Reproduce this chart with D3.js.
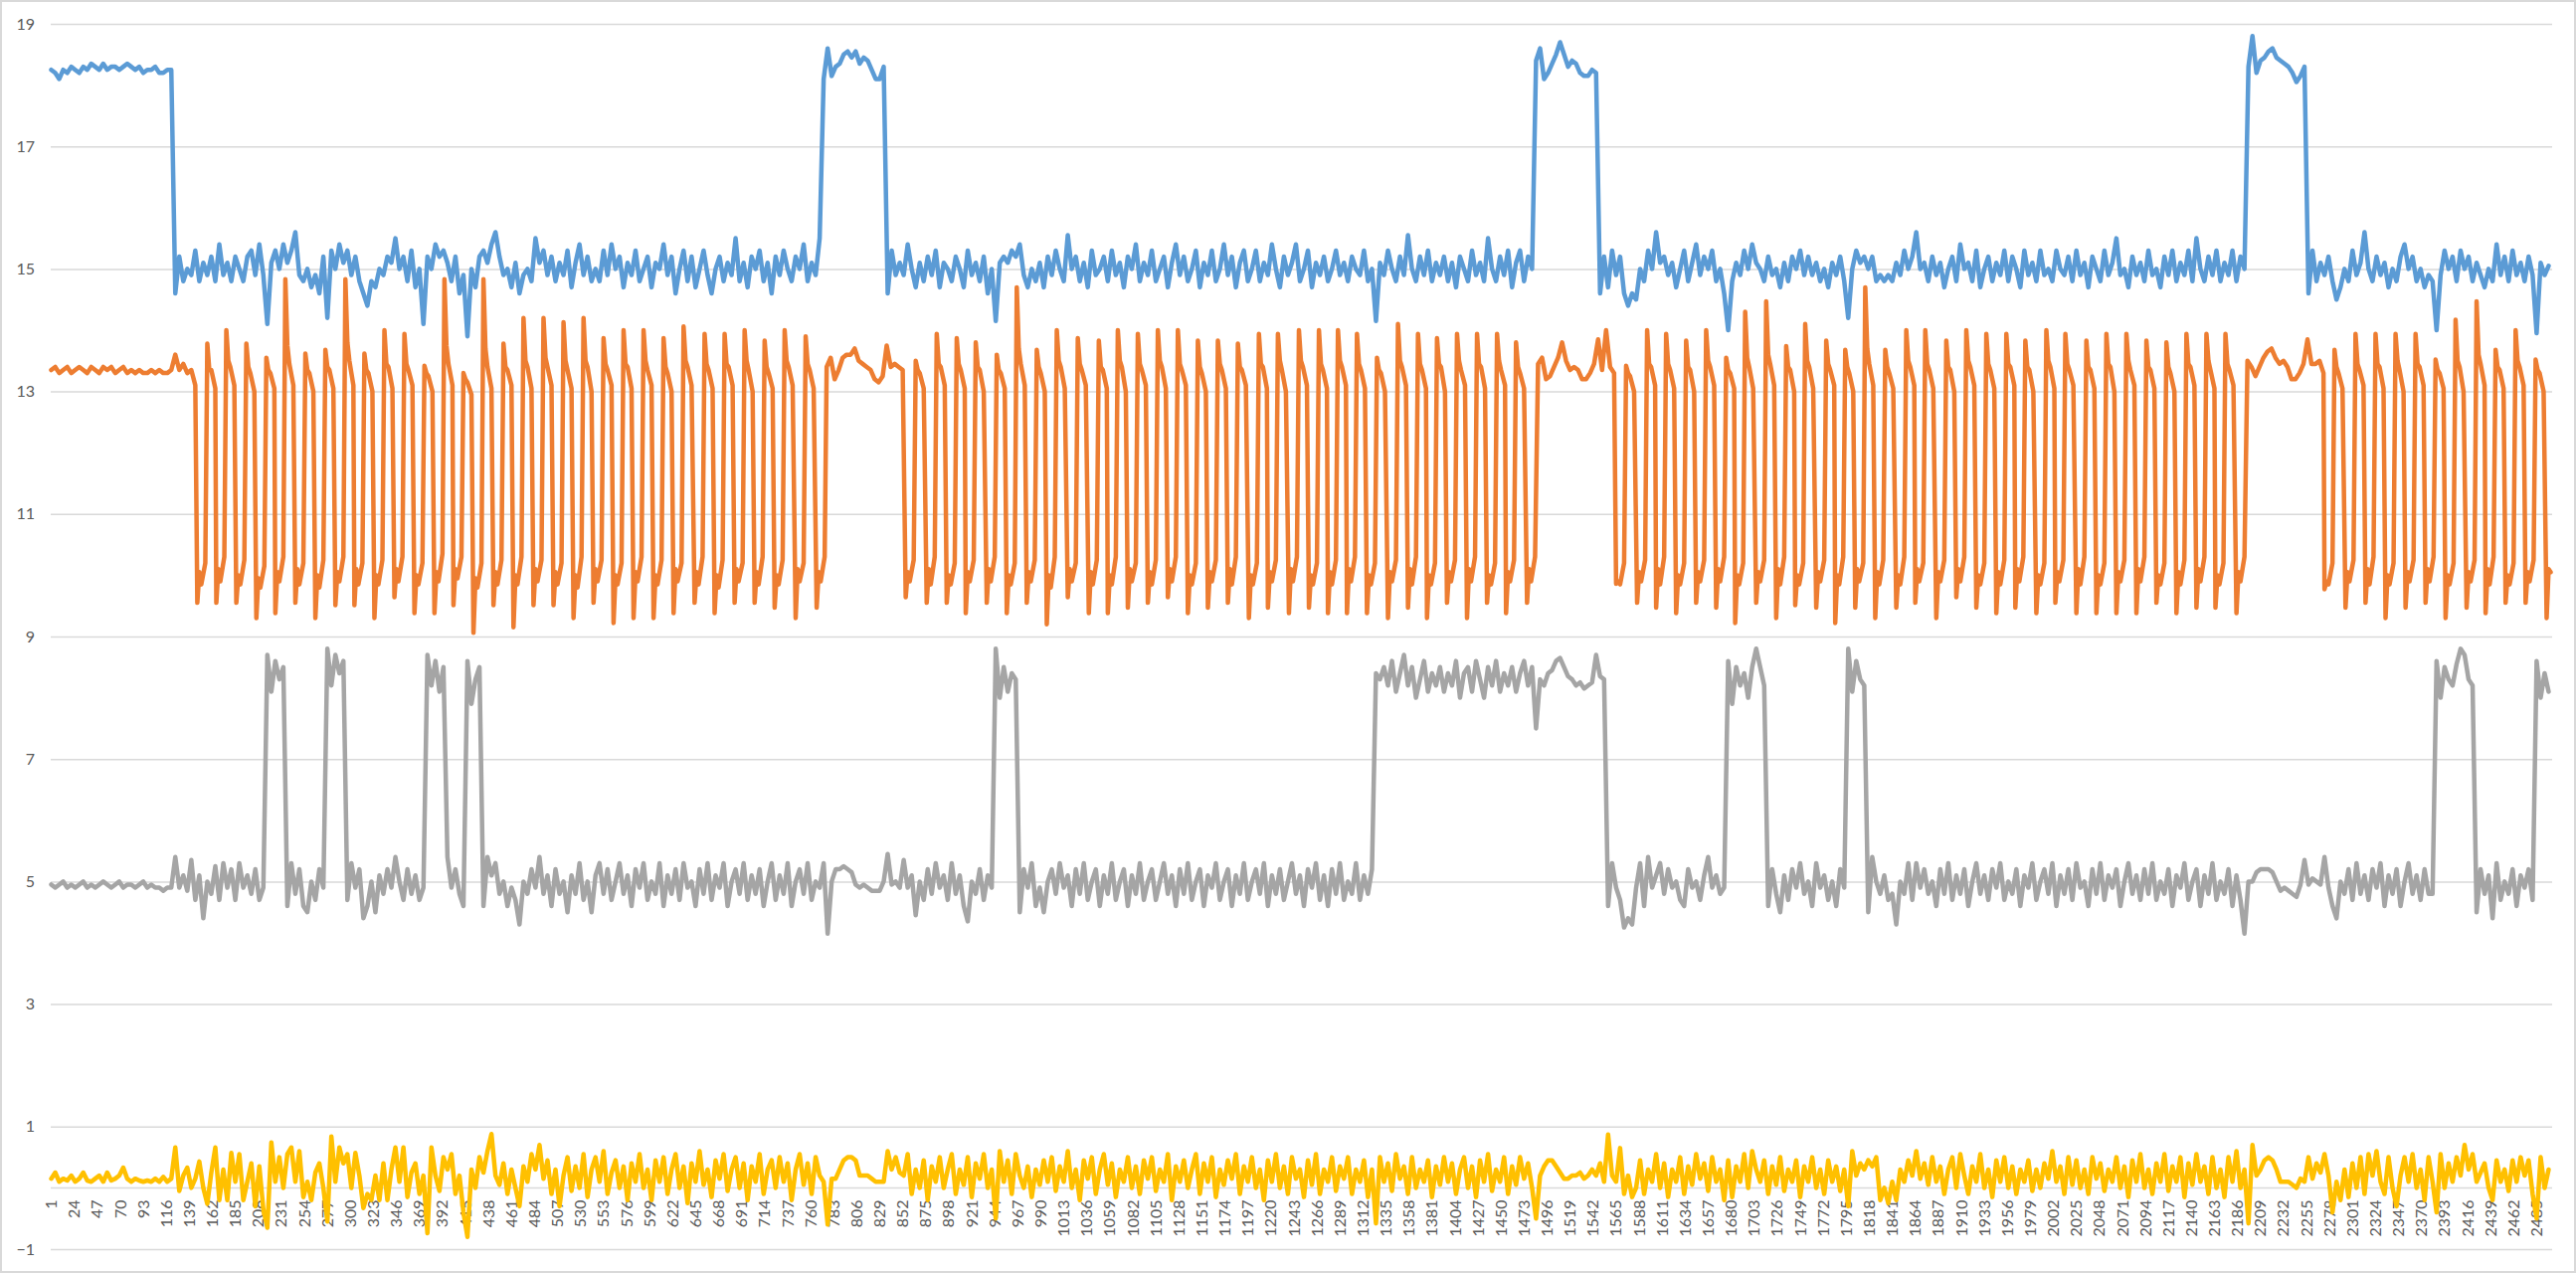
<!DOCTYPE html>
<html>
<head>
<meta charset="utf-8">
<script src="https://cdn.jsdelivr.net/npm/d3@7"></script>
<style>
  html, body { margin: 0; padding: 0; background: #fff; }
  svg { display: block; }
</style>
</head>
<body>
<div id="chart"></div>
<script>
// categories 1..2500, every 23rd labelled
const pointCount = 2500;
const xLabelStep = 23;
const yTicks = [-1, 1, 3, 5, 7, 9, 11, 13, 15, 17, 19];

// blue, gray, yellow are read every 4th point (index 1, 5, 9, ...)
const sampleStep = 4;

const blueValues = [
  18.25,18.2,18.1,18.25,18.2,18.3,18.25,18.2,18.3,18.25,18.35,18.3,18.25,18.35,18.25,18.3,18.3,18.25,18.3,18.35,18.3,18.25,18.3,18.2,18.25,
  18.25,18.3,18.2,18.2,18.25,18.25,14.6,15.2,14.8,15.0,14.9,15.3,14.8,15.1,14.9,15.2,14.8,15.4,14.9,15.1,14.8,15.2,15.0,14.8,15.2,
  15.3,14.9,15.4,14.9,14.1,15.1,15.3,15.0,15.4,15.1,15.3,15.6,14.9,14.8,15.0,14.7,14.9,14.6,15.2,14.2,15.3,15.0,15.4,15.1,15.3,
  14.9,15.2,14.8,14.6,14.4,14.8,14.7,15.0,14.9,15.2,15.1,15.5,15.0,15.2,14.8,15.3,14.7,15.0,14.1,15.2,15.0,15.4,15.2,15.3,15.1,
  14.8,15.2,14.6,14.9,13.9,15.0,14.7,15.2,15.3,15.1,15.4,15.6,15.2,14.9,15.0,14.7,15.1,14.6,14.9,15.0,14.8,15.5,15.1,15.3,14.9,
  15.2,14.8,15.1,14.9,15.3,14.7,15.1,15.4,14.9,15.2,14.8,15.0,14.8,15.3,14.9,15.4,15.0,15.2,14.7,15.1,14.9,15.3,14.8,15.0,15.2,
  14.7,15.1,15.0,15.4,14.9,15.2,14.6,15.0,15.3,14.8,15.2,14.7,15.0,15.3,14.9,14.6,15.0,15.2,14.8,15.1,14.9,15.5,14.8,15.1,14.7,
  15.2,15.0,15.3,14.8,15.1,14.6,15.2,14.9,15.3,15.0,14.8,15.2,15.0,15.4,14.8,15.1,14.9,15.5,18.1,18.6,18.15,18.3,18.35,18.5,18.55,
  18.45,18.55,18.35,18.45,18.4,18.25,18.1,18.1,18.3,14.6,15.3,14.9,15.1,14.9,15.4,15.0,14.7,15.1,14.8,15.2,14.9,15.3,14.7,15.1,15.0,
  14.8,15.2,15.0,14.7,15.3,14.9,15.1,14.8,15.2,14.6,15.0,14.15,15.1,15.2,15.1,15.3,15.2,15.4,14.9,14.7,15.0,14.8,15.1,14.7,15.2,
  14.9,15.3,15.0,14.8,15.55,15.0,15.2,14.8,15.1,14.7,15.3,14.9,15.0,15.2,14.8,15.3,14.9,15.1,14.7,15.2,15.0,15.4,14.8,15.1,14.9,
  15.3,14.8,15.0,15.2,14.7,15.1,15.4,14.9,15.2,14.8,15.0,15.3,14.7,15.1,14.9,15.3,14.8,15.0,15.4,14.9,15.2,14.7,15.1,15.3,14.8,
  15.0,15.3,14.8,15.1,14.9,15.4,15.0,14.7,15.2,14.9,15.1,15.4,14.8,15.0,15.3,14.7,15.1,14.9,15.2,14.8,15.0,15.3,14.9,15.1,14.8,
  15.2,15.0,14.9,15.3,14.8,15.0,14.15,15.1,14.9,15.3,15.0,14.8,15.2,14.9,15.55,15.0,14.8,15.2,14.9,15.3,14.8,15.1,14.9,15.2,14.8,
  15.1,14.7,15.2,15.0,14.8,15.3,14.9,15.1,14.8,15.5,15.0,14.8,15.2,14.9,15.3,14.7,15.1,15.3,14.8,15.2,15.0,18.4,18.6,18.1,18.2,
  18.35,18.5,18.7,18.5,18.3,18.4,18.35,18.2,18.15,18.15,18.25,18.2,14.6,15.2,14.7,15.3,14.9,15.2,14.6,14.4,14.6,14.5,15.0,14.8,15.3,
  15.0,15.6,15.1,15.2,14.9,15.1,14.7,15.0,15.3,14.8,15.1,15.4,14.9,15.2,15.0,15.3,14.8,15.0,14.6,14.0,14.8,15.1,14.9,15.3,15.0,
  15.4,15.1,15.0,14.8,15.2,14.9,15.0,14.7,15.1,14.8,15.2,15.0,15.3,14.9,15.2,14.9,15.1,14.8,15.0,14.7,15.1,14.9,15.2,14.8,14.2,
  15.0,15.3,15.1,15.2,15.0,15.2,14.8,14.9,14.8,14.9,14.8,15.1,14.9,15.3,15.0,15.2,15.6,15.0,15.1,14.8,15.2,14.9,15.1,14.7,15.0,
  15.2,14.8,15.4,15.0,15.1,14.8,15.3,14.7,15.0,15.2,14.8,15.1,14.9,15.3,14.8,15.2,15.0,14.7,15.3,14.9,15.1,14.8,15.3,14.9,15.0,
  14.8,15.3,15.0,14.9,15.2,14.8,15.3,14.9,15.1,14.7,15.2,15.0,14.8,15.3,14.9,15.1,15.5,14.9,15.0,14.7,15.2,14.9,15.1,14.8,15.3,
  14.9,15.0,14.7,15.2,14.9,15.3,14.8,15.1,14.9,15.3,14.8,15.5,15.0,14.8,15.2,14.9,15.3,14.8,15.1,14.9,15.3,14.8,15.2,15.0,18.3,
  18.8,18.2,18.4,18.45,18.55,18.6,18.45,18.4,18.35,18.3,18.2,18.05,18.15,18.3,14.6,15.3,14.8,15.1,14.9,15.2,14.8,14.5,14.7,15.0,14.8,
  15.3,14.9,15.1,15.6,15.0,14.8,15.2,14.9,15.1,14.7,15.0,14.8,15.2,15.4,15.0,15.2,14.8,15.0,14.7,14.9,14.8,14.0,14.9,15.3,15.0,
  15.2,14.8,15.3,15.0,15.2,14.8,15.1,14.9,14.7,15.0,14.8,15.4,14.9,15.2,14.8,15.3,14.9,15.1,14.8,15.2,14.9,13.95,15.1,14.9,15.05
];

const grayValues = [
  4.95,4.9,4.95,5.0,4.9,4.95,4.9,4.95,5.0,4.9,4.95,4.9,4.95,5.0,4.95,4.9,4.95,5.0,4.9,4.95,4.95,4.9,4.95,5.0,4.9,
  4.95,4.9,4.9,4.85,4.9,4.9,5.4,4.9,5.1,4.85,5.35,4.7,5.1,4.4,5.0,4.8,5.25,4.7,5.3,4.9,5.2,4.7,5.3,4.9,5.1,
  4.8,5.2,4.7,4.9,8.7,8.1,8.6,8.3,8.5,4.6,5.3,4.8,5.2,4.6,4.5,5.0,4.7,5.2,4.9,8.8,8.2,8.7,8.4,8.6,4.7,
  5.3,4.9,5.2,4.4,4.6,5.0,4.5,5.1,4.8,5.2,4.9,5.4,5.0,4.7,5.2,4.8,5.1,4.7,4.9,8.7,8.2,8.6,8.1,8.5,5.4,
  4.9,5.2,4.8,4.6,8.6,7.9,8.3,8.5,4.6,5.4,5.1,5.3,4.8,5.0,4.6,4.9,4.7,4.3,5.0,4.8,5.2,4.9,5.4,4.8,5.1,
  4.6,5.2,4.8,5.0,4.5,5.1,4.8,5.3,4.7,5.0,4.5,5.1,5.3,4.8,5.2,4.7,5.0,5.3,4.8,5.1,4.6,5.2,4.9,5.3,4.7,
  5.0,4.8,5.3,4.6,5.1,4.8,5.2,4.7,5.3,4.9,5.0,4.6,5.2,4.8,5.3,4.7,5.1,4.9,5.3,4.6,5.0,5.2,4.8,5.3,4.7,
  5.1,4.8,5.2,4.6,5.0,5.3,4.7,5.1,4.8,5.3,4.6,5.0,5.2,4.8,5.3,4.7,5.0,4.9,5.3,4.15,5.0,5.2,5.2,5.25,5.2,
  5.15,4.95,4.9,4.95,4.9,4.85,4.85,4.85,5.0,5.45,4.95,5.0,4.9,5.35,4.9,5.1,4.45,5.0,4.7,5.2,4.8,5.3,4.9,5.1,4.7,
  5.3,4.8,5.1,4.6,4.35,5.0,4.8,5.2,4.7,5.1,4.9,8.8,8.0,8.5,8.1,8.4,8.3,4.5,5.2,4.9,5.3,4.6,4.9,4.5,5.0,
  5.2,4.8,5.3,4.9,5.1,4.6,5.2,4.8,5.3,4.7,5.0,5.2,4.6,5.1,4.8,5.3,4.7,5.0,5.2,4.6,5.1,4.8,5.3,4.7,5.0,
  5.2,4.7,5.0,5.3,4.8,5.1,4.6,5.2,4.8,5.3,4.7,5.0,5.2,4.6,5.1,4.9,5.3,4.7,5.0,5.2,4.6,5.1,4.8,5.3,4.7,
  5.0,5.2,4.8,5.3,4.6,5.1,4.8,5.2,4.7,5.0,5.3,4.8,5.1,4.6,5.2,4.9,5.3,4.7,5.1,4.6,5.2,4.8,5.3,4.7,5.0,
  4.8,5.3,4.7,5.1,4.8,5.2,8.4,8.3,8.5,8.2,8.6,8.1,8.4,8.7,8.2,8.5,8.0,8.3,8.6,8.1,8.4,8.2,8.5,8.1,8.4,
  8.2,8.6,8.0,8.4,8.5,8.1,8.6,8.3,8.0,8.5,8.2,8.6,8.1,8.4,8.2,8.5,8.1,8.4,8.6,8.2,8.5,7.5,8.3,8.2,8.4,
  8.45,8.6,8.65,8.5,8.35,8.3,8.2,8.25,8.15,8.2,8.25,8.7,8.35,8.3,4.6,5.3,4.9,4.7,4.25,4.4,4.3,4.9,5.3,4.6,5.4,
  4.9,5.1,5.3,4.8,5.2,4.9,5.0,4.7,4.6,5.2,4.9,5.0,4.7,5.1,5.4,4.9,5.1,4.8,4.9,8.6,7.9,8.5,8.2,8.4,8.0,
  8.5,8.8,8.5,8.2,4.6,5.2,4.8,4.5,5.1,4.7,5.2,4.9,5.3,4.8,5.0,4.6,5.3,4.9,5.1,4.7,5.0,4.6,5.2,4.9,8.8,
  8.1,8.6,8.3,8.2,4.5,5.4,5.0,4.8,5.1,4.7,4.8,4.3,5.0,4.8,5.3,4.7,5.3,4.9,5.2,4.8,5.0,4.6,5.2,4.8,5.3,
  4.7,5.1,4.8,5.2,4.6,5.0,5.3,4.8,5.1,4.7,5.2,4.9,5.3,4.7,5.0,4.8,5.2,4.6,5.1,4.9,5.3,4.7,5.0,5.2,4.8,
  5.3,4.6,5.1,4.8,5.2,4.7,5.3,4.9,5.0,4.6,5.2,4.8,5.3,4.7,5.1,4.9,5.2,4.6,5.0,5.3,4.8,5.1,4.7,5.2,4.8,
  5.3,4.7,5.0,4.8,5.2,4.6,5.1,4.9,5.3,4.7,5.0,5.2,4.6,5.1,4.8,5.3,4.7,5.0,4.8,5.2,4.6,5.1,4.7,4.15,5.0,
  5.0,5.15,5.2,5.2,5.2,5.15,5.0,4.85,4.9,4.85,4.8,4.75,4.95,5.35,4.95,5.05,5.0,4.95,5.4,4.9,4.6,4.4,5.0,4.8,5.2,
  4.7,5.3,4.8,5.1,4.7,5.2,4.9,5.3,4.6,5.1,4.8,5.2,4.6,5.0,5.3,4.8,5.1,4.7,5.2,4.8,4.8,8.6,8.0,8.5,8.3,
  8.2,8.55,8.8,8.7,8.3,8.2,4.5,5.2,4.8,5.1,4.4,5.3,4.7,5.0,4.8,5.2,4.6,5.1,4.9,5.2,4.7,8.6,8.0,8.4,8.1
];

const yellowValues = [
  0.15,0.25,0.1,0.15,0.12,0.2,0.1,0.15,0.25,0.12,0.1,0.15,0.2,0.1,0.25,0.12,0.15,0.2,0.33,0.15,0.1,0.15,0.12,0.1,0.12,
  0.1,0.15,0.1,0.18,0.1,0.15,0.66,-0.05,0.2,0.33,0.0,0.15,0.43,0.0,-0.26,0.25,0.66,-0.2,0.3,-0.2,0.57,0.1,0.55,-0.2,0.1,
  0.4,-0.3,0.35,-0.35,-0.65,0.74,0.1,0.5,0.0,0.55,0.66,0.1,0.6,-0.15,0.1,-0.2,0.25,0.4,0.0,-0.55,0.84,0.1,0.66,0.4,0.55,
  0.0,0.57,0.2,-0.33,-0.1,-0.2,0.2,-0.2,0.4,-0.2,0.3,0.66,0.1,0.66,-0.15,0.25,0.4,-0.1,0.2,-0.74,0.66,0.2,-0.05,0.5,0.3,
  0.55,-0.1,0.2,-0.4,-0.8,0.3,0.0,0.5,0.25,0.6,0.88,0.2,0.05,0.4,-0.1,0.3,0.0,-0.3,0.35,0.1,0.55,0.3,0.7,0.15,0.45,
  -0.1,0.3,-0.3,0.2,0.5,-0.05,0.35,0.0,0.55,-0.15,0.3,0.5,0.1,0.6,-0.1,0.25,0.45,0.0,0.35,-0.2,0.4,0.1,0.55,0.0,0.3,
  -0.2,0.45,0.1,0.5,-0.1,0.3,0.55,0.0,0.35,-0.25,0.4,0.1,0.6,0.05,0.3,-0.15,0.45,0.15,0.55,-0.05,0.3,0.5,0.0,0.4,-0.2,
  0.35,0.1,0.55,-0.1,0.3,0.45,0.0,0.5,0.1,0.4,-0.2,0.3,0.55,0.05,0.4,-0.1,0.5,0.2,0.1,-0.6,0.15,0.15,0.3,0.45,0.5,
  0.5,0.45,0.2,0.2,0.2,0.15,0.1,0.1,0.1,0.6,0.3,0.5,0.25,0.2,0.55,-0.1,0.3,0.0,0.45,-0.2,0.35,0.1,0.5,0.0,0.3,
  0.55,-0.1,0.3,0.05,0.5,-0.15,0.4,0.15,0.55,0.0,0.3,-0.5,0.6,0.1,0.45,-0.1,0.55,0.2,0.0,0.35,-0.15,0.3,0.05,0.45,0.1,
  0.5,-0.05,0.35,0.1,0.6,0.0,0.3,-0.2,0.45,0.15,0.5,-0.1,0.3,0.55,0.05,0.4,-0.15,0.3,0.1,0.5,0.0,0.35,-0.1,0.45,0.15,
  0.5,-0.05,0.3,0.1,0.55,-0.2,0.35,0.1,0.45,0.0,0.3,0.55,-0.1,0.4,0.1,0.5,-0.15,0.3,0.05,0.45,0.15,0.55,-0.1,0.35,0.1,
  0.5,0.0,0.3,-0.2,0.45,0.1,0.55,0.0,0.35,-0.1,0.5,0.15,0.3,-0.15,0.45,0.05,0.55,-0.1,0.3,0.1,0.5,-0.05,0.35,0.15,0.5,
  -0.1,0.3,0.1,0.45,-0.15,0.3,-0.58,0.5,0.1,0.4,-0.05,0.55,0.15,0.35,-0.1,0.5,0.0,0.3,0.1,0.45,-0.15,0.35,0.05,0.5,0.1,
  0.4,-0.1,0.3,0.5,0.0,0.35,-0.15,0.45,0.1,0.55,-0.05,0.3,0.1,0.5,-0.1,0.35,0.05,0.5,0.15,0.4,0.0,-0.5,0.2,0.35,0.45,
  0.45,0.35,0.25,0.15,0.15,0.2,0.2,0.25,0.15,0.2,0.3,0.2,0.4,0.1,0.87,0.2,0.1,0.65,-0.1,0.2,-0.15,0.0,0.45,-0.1,0.3,
  0.1,0.55,0.0,0.4,-0.15,0.3,0.1,0.5,-0.1,0.35,0.05,0.55,0.15,0.4,-0.05,0.5,0.1,0.3,-0.2,0.45,-0.15,0.35,0.1,0.55,0.0,
  0.6,0.3,0.1,0.45,-0.1,0.35,0.05,0.5,-0.05,0.3,0.1,0.45,-0.15,0.35,0.1,0.5,0.0,0.3,-0.1,0.45,0.1,0.35,-0.05,0.3,-0.3,
  0.6,0.2,0.4,0.3,0.45,0.35,0.5,-0.2,0.0,-0.25,0.1,-0.2,0.3,0.1,0.45,0.2,0.6,0.15,0.4,0.05,0.5,0.1,0.35,-0.1,0.3,
  0.5,0.0,0.55,0.2,-0.1,0.35,0.1,0.55,0.0,0.3,-0.15,0.45,0.1,0.5,0.0,0.35,-0.1,0.3,0.1,0.45,-0.05,0.3,0.0,0.4,0.15,
  0.6,0.1,0.35,-0.1,0.5,0.05,0.45,0.0,0.3,-0.1,0.5,0.15,0.4,-0.05,0.3,0.1,0.5,0.0,0.35,-0.15,0.45,0.1,0.55,0.0,0.3,
  -0.1,0.4,0.1,0.55,-0.05,0.35,0.1,0.5,-0.15,0.4,0.05,0.55,0.1,0.35,-0.1,0.5,0.0,0.3,-0.15,0.5,0.1,0.6,0.0,0.3,-0.58,
  0.7,0.2,0.3,0.45,0.5,0.45,0.3,0.1,0.1,0.1,0.05,0.0,0.15,0.1,0.5,0.15,0.4,0.25,0.55,0.2,-0.4,0.1,-0.2,0.3,-0.15,
  0.4,0.0,0.5,-0.1,0.55,0.2,0.6,0.1,-0.1,0.5,0.0,-0.3,0.2,0.5,0.1,0.55,0.0,0.3,-0.2,0.5,0.1,-0.4,0.55,0.0,0.4,
  0.1,0.5,0.2,0.7,0.3,0.55,0.1,0.25,0.4,0.0,-0.2,0.45,0.1,0.3,-0.05,0.45,0.1,0.5,0.2,0.45,-0.1,-0.5,0.5,0.0,0.3
];

// orange: resting stretches (read every 4th point from the given start index)
const orangeRestStarts = [1, 776, 1487, 2196];
const orangeRest1 = [13.35,13.4,13.3,13.35,13.4,13.3,13.35,13.4,13.35,13.3,13.4,13.35,13.3,13.4,13.35,13.4,13.3,13.35,13.4,13.3,13.35,13.3,13.35,13.3,13.3,13.35,13.3,13.35,13.3,13.3,13.35,13.6,13.35,13.45,13.3,13.35,13.1];
const orangeRest2 = [13.4,13.55,13.2,13.35,13.55,13.6,13.6,13.7,13.5,13.45,13.4,13.35,13.2,13.15,13.25,13.75,13.4,13.45,13.4,13.35];
const orangeRest3 = [13.45,13.55,13.2,13.25,13.4,13.55,13.8,13.5,13.35,13.4,13.35,13.2,13.2,13.3,13.45,13.85,13.35,14.0,13.4,13.3];
const orangeRest4 = [13.5,13.4,13.25,13.4,13.55,13.65,13.7,13.55,13.45,13.5,13.4,13.2,13.2,13.3,13.45,13.85,13.45,13.45,13.5,13.3];

// orange: one row per cycle = [index of trough, trough, rebound, dip, ramp top, peak, after peak, shoulder, tail]
// the values in a row sit at these offsets (in points) from the trough
const cycleOffsets = [0, 2, 4, 8, 10, 12, 14, 18];
const orangeCycles = [
  [147,9.55,10.05,9.85,10.2,13.78,13.35,13.35,13.05],
  [166,9.55,10.1,9.9,10.3,14.0,13.5,13.4,13.1],
  [186,9.55,10.0,9.85,10.25,13.78,13.4,13.3,13.0],
  [206,9.3,9.95,9.8,10.15,13.55,13.35,13.3,13.05],
  [225,9.38,10.05,9.9,10.3,14.83,13.75,13.45,13.1],
  [245,9.55,10.1,9.85,10.2,13.62,13.35,13.3,13.0],
  [265,9.3,10.0,9.8,10.25,13.68,13.4,13.35,13.05],
  [285,9.51,10.05,9.9,10.3,14.83,13.8,13.5,13.1],
  [304,9.51,10.1,9.85,10.2,13.62,13.35,13.3,13.0],
  [324,9.3,10.0,9.85,10.25,14.0,13.45,13.4,13.05],
  [344,9.64,10.1,9.9,10.3,13.94,13.45,13.35,13.1],
  [364,9.38,10.0,9.85,10.2,13.42,13.3,13.25,13.0],
  [384,9.38,10.05,9.9,10.35,14.83,13.75,13.45,13.1],
  [403,9.51,10.1,9.95,10.3,13.3,13.2,13.15,12.95],
  [423,9.06,9.95,9.8,10.2,14.83,13.7,13.4,13.05],
  [443,9.51,10.05,9.85,10.25,13.78,13.4,13.35,13.1],
  [463,9.15,10.0,9.85,10.3,14.2,13.5,13.4,13.05],
  [483,9.51,10.1,9.9,10.25,14.2,13.55,13.4,13.1],
  [503,9.51,10.05,9.85,10.2,14.13,13.5,13.35,13.05],
  [523,9.3,10.0,9.8,10.3,14.2,13.5,13.4,13.0],
  [543,9.55,10.1,9.9,10.25,13.87,13.45,13.35,13.1],
  [563,9.22,10.0,9.85,10.2,14.0,13.45,13.4,13.05],
  [583,9.3,10.05,9.9,10.3,14.0,13.5,13.35,13.1],
  [603,9.3,10.0,9.85,10.25,13.87,13.4,13.3,13.0],
  [623,9.38,10.1,9.9,10.2,14.06,13.5,13.4,13.1],
  [644,9.55,10.05,9.85,10.3,13.94,13.45,13.35,13.05],
  [664,9.38,10.0,9.8,10.25,13.94,13.45,13.4,13.1],
  [684,9.55,10.1,9.9,10.2,14.0,13.5,13.35,13.0],
  [704,9.55,10.05,9.85,10.3,13.83,13.4,13.3,13.05],
  [724,9.47,10.0,9.85,10.25,14.0,13.5,13.4,13.1],
  [745,9.3,10.1,9.9,10.2,13.9,13.45,13.35,13.05],
  [766,9.47,10.05,9.9,10.3,null,null,null,null],
  [855,9.64,10.05,9.9,10.25,13.5,13.35,13.3,13.05],
  [876,9.55,10.1,9.85,10.3,13.94,13.45,13.4,13.1],
  [896,9.55,10.0,9.85,10.2,13.87,13.45,13.35,13.05],
  [915,9.38,10.05,9.9,10.25,13.8,13.4,13.35,13.0],
  [936,9.55,10.1,9.9,10.3,13.6,13.35,13.3,13.05],
  [956,9.38,10.0,9.85,10.2,14.7,13.7,13.45,13.1],
  [976,9.55,10.05,9.9,10.25,13.68,13.4,13.3,13.0],
  [996,9.2,10.0,9.8,10.3,14.0,13.5,13.4,13.05],
  [1017,9.64,10.1,9.9,10.2,13.87,13.45,13.35,13.1],
  [1038,9.38,10.05,9.85,10.25,13.83,13.4,13.35,13.05],
  [1057,9.38,10.0,9.85,10.3,14.0,13.5,13.4,13.0],
  [1077,9.47,10.1,9.9,10.2,13.94,13.45,13.35,13.1],
  [1097,9.55,10.05,9.85,10.25,14.0,13.5,13.4,13.05],
  [1117,9.64,10.1,9.9,10.3,14.0,13.45,13.35,13.1],
  [1137,9.38,10.0,9.85,10.2,13.83,13.4,13.3,13.0],
  [1157,9.47,10.05,9.9,10.25,13.83,13.45,13.35,13.05],
  [1177,9.55,10.1,9.85,10.3,13.78,13.4,13.35,13.1],
  [1198,9.3,10.0,9.85,10.2,13.94,13.45,13.4,13.05],
  [1217,9.47,10.05,9.9,10.25,13.94,13.5,13.35,13.0],
  [1238,9.38,10.1,9.9,10.3,14.0,13.5,13.4,13.1],
  [1258,9.47,10.0,9.85,10.2,14.0,13.45,13.35,13.05],
  [1277,9.38,10.05,9.85,10.25,14.0,13.5,13.4,13.1],
  [1296,9.38,10.1,9.9,10.3,13.94,13.45,13.35,13.05],
  [1316,9.38,10.0,9.85,10.2,13.55,13.35,13.3,13.0],
  [1337,9.3,10.05,9.9,10.25,14.1,13.5,13.4,13.1],
  [1357,9.47,10.1,9.85,10.3,13.94,13.45,13.35,13.05],
  [1376,9.3,10.0,9.85,10.2,13.87,13.45,13.4,13.0],
  [1396,9.55,10.05,9.9,10.25,13.94,13.5,13.35,13.1],
  [1416,9.3,10.1,9.9,10.3,13.94,13.45,13.4,13.05],
  [1436,9.55,10.0,9.85,10.2,13.94,13.5,13.35,13.1],
  [1455,9.38,10.05,9.9,10.25,13.8,13.4,13.3,13.05],
  [1476,9.55,10.1,9.9,10.3,null,null,null,null],
  [1565,9.86,9.9,9.85,10.2,13.42,13.3,13.25,13.0],
  [1586,9.55,10.05,9.9,10.25,14.0,13.45,13.4,13.1],
  [1605,9.47,10.1,9.85,10.3,13.94,13.45,13.35,13.05],
  [1625,9.38,10.0,9.85,10.2,13.83,13.4,13.35,13.0],
  [1645,9.55,10.05,9.9,10.25,14.0,13.5,13.4,13.1],
  [1665,9.47,10.1,9.9,10.3,13.55,13.35,13.3,13.05],
  [1684,9.22,10.0,9.85,10.2,14.3,13.55,13.4,13.05],
  [1705,9.55,10.05,9.9,10.25,14.47,13.6,13.45,13.1],
  [1725,9.3,10.1,9.85,10.3,13.74,13.4,13.35,13.0],
  [1744,9.51,10.0,9.85,10.2,14.1,13.5,13.4,13.05],
  [1765,9.47,10.05,9.9,10.25,13.83,13.45,13.35,13.1],
  [1784,9.22,10.0,9.85,10.3,13.68,13.4,13.3,13.0],
  [1804,9.47,10.1,9.9,10.2,14.7,13.7,13.45,13.1],
  [1824,9.3,10.05,9.85,10.25,13.68,13.4,13.3,13.05],
  [1845,9.47,10.0,9.85,10.3,14.0,13.5,13.4,13.1],
  [1864,9.55,10.1,9.9,10.2,14.0,13.45,13.35,13.05],
  [1885,9.3,10.05,9.9,10.25,13.83,13.4,13.35,13.0],
  [1905,9.64,10.1,9.9,10.3,14.0,13.5,13.4,13.1],
  [1925,9.47,10.0,9.85,10.2,13.94,13.45,13.35,13.05],
  [1945,9.38,10.05,9.85,10.25,13.94,13.45,13.4,13.1],
  [1964,9.47,10.1,9.9,10.3,13.83,13.4,13.35,13.0],
  [1985,9.38,10.0,9.85,10.2,14.0,13.5,13.4,13.05],
  [2004,9.55,10.05,9.9,10.25,13.94,13.45,13.35,13.1],
  [2025,9.38,10.1,9.85,10.3,13.83,13.4,13.35,13.05],
  [2045,9.38,10.0,9.85,10.2,13.94,13.45,13.4,13.0],
  [2065,9.38,10.05,9.9,10.25,13.94,13.5,13.35,13.1],
  [2085,9.38,10.1,9.9,10.3,13.83,13.4,13.35,13.05],
  [2105,9.55,10.0,9.85,10.2,13.8,13.4,13.3,13.0],
  [2125,9.38,10.05,9.85,10.25,13.94,13.45,13.4,13.1],
  [2145,9.47,10.1,9.9,10.3,13.94,13.5,13.35,13.05],
  [2164,9.47,10.0,9.85,10.2,13.94,13.45,13.35,13.1],
  [2185,9.38,10.05,9.9,10.3,null,null,null,null],
  [2273,9.77,9.9,9.85,10.2,13.68,13.4,13.3,13.05],
  [2294,9.47,10.05,9.9,10.25,13.94,13.45,13.35,13.1],
  [2314,9.55,10.1,9.85,10.3,13.94,13.45,13.4,13.05],
  [2334,9.3,10.0,9.85,10.2,13.94,13.5,13.35,13.0],
  [2354,9.47,10.05,9.9,10.25,13.94,13.45,13.4,13.1],
  [2374,9.55,10.1,9.9,10.3,13.52,13.35,13.3,13.05],
  [2394,9.3,10.0,9.85,10.2,14.17,13.5,13.4,13.0],
  [2415,9.47,10.05,9.9,10.25,14.47,13.6,13.45,13.1],
  [2434,9.38,10.1,9.85,10.3,13.68,13.4,13.35,13.05],
  [2454,9.55,10.0,9.85,10.2,14.0,13.5,13.4,13.1],
  [2474,9.55,10.05,9.9,10.25,13.52,13.35,13.3,13.0],
  [2495,9.3,10.1,10.05,null,null,null,null,null]
];

// ---- turn the arrays into [index, value] points ----
function strided(values, start, step) {
    return values.map((v, i) => [start + i * step, v]);
}

const blue = strided(blueValues, 1, sampleStep);
const gray = strided(grayValues, 1, sampleStep);
const yellow = strided(yellowValues, 1, sampleStep);

let orange = [];
[orangeRest1, orangeRest2, orangeRest3, orangeRest4].forEach((rest, k) => {
    orange = orange.concat(strided(rest, orangeRestStarts[k], sampleStep));
});
orangeCycles.forEach(row => {
    cycleOffsets.forEach((off, j) => {
        const v = row[j + 1];
        const idx = row[0] + off;
        if (v != null && idx <= pointCount) orange.push([idx, v]);
    });
});
orange.sort((a, b) => a[0] - b[0]);

const series = [
    {name: "blue", color: "#5B9BD5", points: blue},
    {name: "orange", color: "#ED7D31", points: orange},
    {name: "gray", color: "#A5A5A5", points: gray},
    {name: "yellow", color: "#FFC000", points: yellow}
];

// ---- chart ----
const width = 2590, height = 1280;
const marginLeft = 51, marginRight = 24, marginTop = 24, marginBottom = 24;

const x = d3.scaleLinear()
    .domain([0.5, pointCount + 0.5])
    .range([marginLeft, width - marginRight]);

const y = d3.scaleLinear()
    .domain([-1, 19])
    .range([height - marginBottom, marginTop]);

const svg = d3.select("#chart").append("svg")
    .attr("width", width)
    .attr("height", height)
    .attr("viewBox", [0, 0, width, height])
    .style("font-family", "Lato, 'Open Sans', sans-serif");

svg.append("rect")
    .attr("x", 1).attr("y", 1)
    .attr("width", width - 2).attr("height", height - 2)
    .attr("fill", "#fff")
    .attr("stroke", "#d9d9d9")
    .attr("stroke-width", 2);

// horizontal gridlines + value labels
svg.append("g")
    .attr("transform", `translate(${marginLeft},0)`)
    .call(d3.axisLeft(y).tickValues(yTicks).tickSize(-(width - marginLeft - marginRight)).tickPadding(16))
    .call(g => g.select(".domain").remove())
    .call(g => g.selectAll(".tick line").attr("stroke", "#d9d9d9").attr("stroke-width", 1.5))
    .call(g => g.selectAll(".tick text")
        .attr("fill", "#595959")
        .style("font-size", "16px")
        .style("font-family", "Lato, 'Open Sans', sans-serif"));

// category axis sits at 0
const categories = d3.range(1, pointCount + 1);
const xLabels = categories.filter(c => (c - 1) % xLabelStep === 0);

svg.append("line")
    .attr("x1", marginLeft).attr("x2", width - marginRight)
    .attr("y1", y(0)).attr("y2", y(0))
    .attr("stroke", "#d9d9d9")
    .attr("stroke-width", 1.5);

svg.append("g")
    .selectAll("text")
    .data(xLabels)
    .join("text")
    .attr("transform", d => `translate(${x(d)},${y(0) + 12}) rotate(-90)`)
    .attr("text-anchor", "end")
    .attr("dy", "0.35em")
    .attr("fill", "#595959")
    .style("font-size", "16px")
    .text(d => d);

// series lines
const line = d3.line()
    .x(d => x(d[0]))
    .y(d => y(d[1]));

svg.append("g")
    .selectAll("path")
    .data(series)
    .join("path")
    .attr("fill", "none")
    .attr("stroke", d => d.color)
    .attr("stroke-width", 4.5)
    .attr("stroke-linejoin", "round")
    .attr("stroke-linecap", "round")
    .attr("d", d => line(d.points));
</script>
</body>
</html>
